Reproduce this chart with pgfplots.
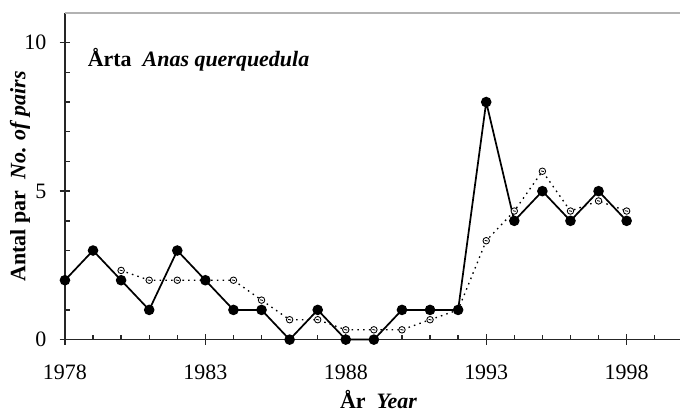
\documentclass[border=0pt]{standalone}
\usepackage{fontspec}
\setmainfont{Liberation Serif}
\usepackage{pgfplots}
\pgfplotsset{compat=1.18}
\pgfdeclareplotmark{odash}{%
  \pgfpathcircle{\pgfpoint{0pt}{0pt}}{\pgfplotmarksize}%
  \pgfusepathqfillstroke
  \pgfpathmoveto{\pgfpoint{-0.45\pgfplotmarksize}{0.1\pgfplotmarksize}}%
  \pgfpathlineto{\pgfpoint{0.45\pgfplotmarksize}{-0.1\pgfplotmarksize}}%
  \pgfusepathqstroke}
\begin{document}
\fontsize{11.5}{13}\selectfont
\begin{tikzpicture}
\begin{axis}[
  name=ax,
  scale only axis,
  width=322pt, height=171pt,
  xmin=1978, xmax=1999.9, ymin=0, ymax=11,
  axis x line=bottom, axis y line=left,
  axis line style={-, line width=0.8pt, black!85},
  xtick={1978,1983,1988,1993,1998},
  minor xtick={1979,1980,1981,1982,1984,1985,1986,1987,1989,1990,1991,1992,1994,1995,1996,1997,1999},
  ytick={0,5,10},
  minor ytick={1,2,3,4,6,7,8,9},
  xticklabel style={/pgf/number format/1000 sep={}},
  /pgf/number format/assume math mode=true,
  tick style={black!85, line width=0.7pt},
  major tick length=5.5pt, minor tick length=2.5pt,
  xtick align=center, ytick align=center,
  minor x tick style={yshift=1.25pt},
  minor y tick style={xshift=1.25pt},
  xticklabel style={anchor=north, yshift=-6.5pt},
  yticklabel style={anchor=east, xshift=-3pt},
  xlabel={\textbf{År}\ \ \textbf{\textit{Year}}},
  ylabel={\textbf{Antal par}\ \ \textbf{\textit{No. of pairs}}},
  xlabel style={at={(axis description cs:0.51,-0.21)}, anchor=base},
  ylabel style={at={(axis description cs:-0.073,0.5)}, anchor=center},
  clip=false,
]
\draw[gray!60, line width=0.6pt] (rel axis cs:0,1) -- (rel axis cs:1,1);
\node[anchor=base west, inner sep=0pt] at (axis cs:1978.8,9.2) {\textbf{Årta}\ \ \textbf{\textit{Anas querquedula}}};
\addplot[black, dash pattern=on 0.8pt off 2.2pt, line width=0.7pt, mark=odash, mark size=1.7pt, mark options={solid, fill=white, draw=black, line width=0.45pt}] coordinates {
(1980,2.33) (1981,2) (1982,2) (1983,2) (1984,2) (1985,1.33) (1986,0.67) (1987,0.67) (1988,0.33) (1989,0.33) (1990,0.33) (1991,0.67) (1992,1) (1993,3.33) (1994,4.33) (1995,5.67) (1996,4.33) (1997,4.67) (1998,4.33)
};
\addplot[black, line width=0.9pt, mark=*, mark size=2.3pt, mark options={fill=black}] coordinates {
(1978,2) (1979,3) (1980,2) (1981,1) (1982,3) (1983,2) (1984,1) (1985,1) (1986,0) (1987,1) (1988,0) (1989,0) (1990,1) (1991,1) (1992,1) (1993,8) (1994,4) (1995,5) (1996,4) (1997,5) (1998,4)
};
\end{axis}
\pgfresetboundingbox
\path ([xshift=-34pt, yshift=-37.7pt]ax.south west) rectangle ([yshift=6.8pt]ax.north east);
\end{tikzpicture}
\end{document}
